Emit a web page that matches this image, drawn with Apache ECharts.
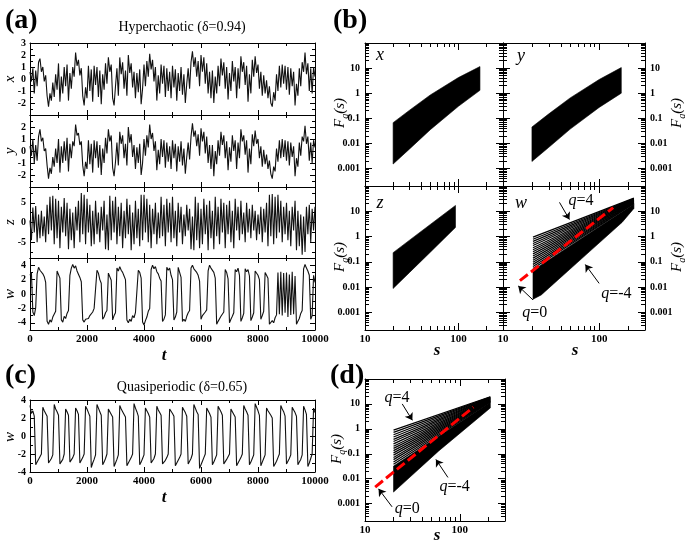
<!DOCTYPE html>
<html><head><meta charset="utf-8">
<script src="https://cdn.jsdelivr.net/npm/echarts@6.0.0/dist/echarts.min.js"></script>
<style>html,body{margin:0;padding:0;background:#fff}#c{width:685px;height:542px}</style>
</head><body><div id="c"></div>
<script>
// ---------------- DATA ----------------
const T_STEP = 50; // time step of the sampled series (t = 0..10000)
const xHyper = [
 0.6,-0.2,0.9,-1.2,0.7,-0.6,1.4,1.7,0.6,1.0,-0.2,0.3,-1.4,-2.3,-1.2,-1.8,-0.3,-1.5,0.4,-0.9,
 1.3,-1.9,0.2,-1.2,1.0,-0.6,1.2,-1.8,0.5,-0.8,1.0,0.2,2.2,1.1,1.6,0.3,0.9,-1.4,-2.2,-0.7,
 -1.6,1.1,-1.0,0.8,-1.9,1.1,-0.5,1.0,-1.5,0.7,-2.1,0.4,-0.9,1.3,-0.4,1.8,0.6,1.2,-1.6,-2.2,
 -0.6,0.9,-1.4,1.8,0.4,1.4,-0.8,0.7,-1.4,2.0,0.5,1.3,-0.7,0.6,-1.6,0.5,-1.1,0.8,-2.1,-0.8,
 1.2,-0.6,1.5,0.2,2.1,0.8,1.6,-0.2,1.0,-1.8,0.3,-1.2,1.2,-0.4,1.1,-1.5,0.9,-1.0,0.6,-1.6,
 1.1,-0.7,0.8,-1.8,0.5,-1.0,1.0,-1.3,0.4,-2.0,-0.4,0.9,-0.8,1.4,2.3,1.0,1.8,0.2,1.5,-0.6,
 2.0,0.6,1.8,-0.4,1.3,-1.2,0.6,-1.6,0.7,-2.0,0.2,-1.2,1.1,-0.6,1.7,0.3,1.4,-0.8,1.0,-1.7,
 0.5,-1.0,1.5,-0.2,1.0,-1.6,0.9,-0.8,1.9,0.6,1.4,-0.5,1.1,-1.9,0.4,-1.2,1.6,0.2,1.9,0.5,
 1.2,-0.8,0.6,-1.4,0.3,-1.2,-0.1,-1.6,-0.6,-2.0,-2.3,-1.1,-1.8,0.4,-1.0,1.1,-0.7,1.2,-0.4,1.1,
 -0.9,1.0,-1.3,0.9,-0.6,0.6,-2.2,-0.4,-1.4,0.9,-0.6,1.4,0.6,2.2,0.4,1.3,-1.0,0.9,-1.2,1.0,
 0.2];
const yHyper = [
 0.4,-0.4,1.0,-1.0,0.5,-0.8,1.2,1.8,0.8,1.1,0.0,0.2,-1.2,-2.3,-1.4,-1.9,-0.5,-1.3,0.2,-1.0,
 1.0,-1.8,0.4,-1.0,0.8,-0.8,1.1,-1.7,0.6,-0.6,0.8,0.4,2.2,1.3,1.5,0.5,0.8,-1.2,-2.1,-0.9,
 -1.5,0.9,-1.1,0.6,-1.8,0.9,-0.6,0.8,-1.4,0.5,-2.0,0.2,-1.0,1.1,-0.2,1.8,0.8,1.3,-1.4,-2.1,
 -0.9,0.7,-1.2,1.6,0.6,1.3,-0.6,0.6,-1.2,2.0,0.7,1.4,-0.5,0.5,-1.5,0.3,-1.0,0.6,-2.0,-1.0,
 1.0,-0.4,1.3,0.3,2.2,1.0,1.5,0.0,0.8,-1.6,0.1,-1.1,1.0,-0.5,0.9,-1.4,0.7,-0.9,0.4,-1.5,
 0.9,-0.6,0.6,-1.7,0.4,-0.9,0.8,-1.2,0.2,-1.9,-0.5,0.7,-0.7,1.2,2.3,1.2,1.7,0.4,1.4,-0.4,
 1.9,0.8,1.6,-0.2,1.2,-1.0,0.5,-1.5,0.5,-2.1,0.0,-1.1,0.9,-0.4,1.6,0.5,1.3,-0.6,0.8,-1.6,
 0.3,-0.9,1.3,0.0,0.9,-1.5,0.7,-0.6,1.8,0.8,1.3,-0.3,0.9,-1.8,0.2,-1.1,1.4,0.4,1.7,0.6,
 1.0,-0.6,0.4,-1.3,0.1,-1.1,-0.3,-1.5,-0.8,-1.9,-2.3,-1.3,-1.7,0.2,-0.9,0.9,-0.6,1.0,-0.5,0.9,
 -0.8,0.8,-1.2,0.7,-0.5,0.4,-2.1,-0.6,-1.3,0.7,-0.4,1.2,0.8,2.1,0.6,1.2,-0.8,0.7,-1.0,0.9,
 0.3];
const zHyper = [
 0.5,-4.5,3.8,-2.5,4.2,-5.0,2.0,-4.0,3.0,-3.5,1.5,-5.0,4.5,-3.0,6.5,-2.0,6.8,-5.5,6.0,-4.0,
 5.5,-6.5,4.0,-2.5,6.2,-3.5,5.0,-6.8,3.5,-4.5,2.5,-6.5,4.0,-2.0,5.5,-5.0,7.5,-3.0,7.0,-5.5,
 6.0,-2.5,4.5,-6.0,3.0,-5.5,5.5,-3.0,2.5,-5.0,4.0,-2.0,5.5,-6.8,2.0,-7.0,6.8,-4.5,5.5,-2.5,
 6.5,-5.5,4.0,-3.5,5.0,-6.5,3.0,-4.0,6.0,-3.0,4.5,-7.0,2.5,-5.5,5.5,-4.0,3.5,-6.0,7.0,-4.5,
 7.0,-2.5,6.0,-5.0,4.5,-6.5,3.5,-3.0,5.0,-5.5,2.5,-4.0,6.5,-3.5,4.5,-6.0,6.0,-2.5,5.0,-5.0,
 6.5,-4.0,3.0,-6.0,5.0,-2.5,4.0,-5.5,2.0,-3.5,4.5,-2.0,3.5,-6.8,1.5,-7.0,6.5,-4.5,5.0,-6.5,
 3.5,-5.5,6.0,-3.0,4.5,-7.0,5.5,-4.0,3.0,-6.8,6.5,-3.5,4.0,-5.5,6.0,-2.5,5.0,-6.5,4.5,-3.0,
 5.5,-5.0,3.0,-6.5,6.0,-2.0,4.0,-4.5,5.5,-3.0,2.5,-5.0,5.0,-2.5,3.5,-4.0,4.5,-2.0,3.0,-4.5,
 2.0,-3.0,4.0,-5.0,3.5,-2.5,5.0,-6.0,7.0,-3.5,7.2,-5.5,6.5,-4.0,7.0,-2.5,5.5,-5.0,4.0,-3.0,
 5.0,-4.5,3.0,-6.0,4.0,-2.0,5.5,-7.0,3.0,-6.0,2.0,-8.2,1.5,-7.5,4.0,-3.0,4.5,-5.0,3.5,-2.0,
 4.0];
const wHyper = [
 2.6,3.0,-2.5,-3.0,-1.9,2.8,3.7,3.3,3.5,2.8,2.4,1.6,-3.8,-4.2,-3.6,-3.9,-3.2,-3.4,-2.4,3.2,
 3.0,2.2,-3.6,-3.9,-3.1,-3.4,-2.7,-2.3,2.6,3.6,4.1,3.6,3.9,3.2,3.0,2.3,1.7,-3.6,-3.9,-3.5,
 -3.7,-3.4,-3.0,-3.2,-2.5,-2.0,-1.8,3.3,2.9,2.0,1.5,-3.5,-3.2,-2.6,-2.3,2.9,2.7,1.9,-3.6,-3.0,
 -2.6,3.6,3.2,3.8,3.3,3.0,2.5,2.0,-3.6,-4.0,-3.5,-3.8,-3.0,-3.3,-2.6,-2.5,3.3,3.0,2.2,-3.9,
 -4.3,-3.7,-3.2,-2.4,-2.0,3.4,4.0,3.5,3.8,3.1,2.8,2.2,1.8,-3.8,-3.5,-2.9,3.7,3.3,3.6,2.6,
 2.0,-3.6,-3.2,-2.5,3.7,3.0,2.3,-3.8,-3.5,-3.8,-3.1,-2.6,-2.3,3.6,4.0,3.5,3.7,3.0,2.6,1.8,
 -3.5,-3.0,-3.2,-2.5,-2.2,3.2,4.0,3.6,3.8,3.0,2.2,-4.2,-3.8,-3.9,-3.1,-3.3,-2.5,3.4,3.0,2.1,
 -4.0,-3.5,-3.1,-2.6,3.4,3.1,3.6,2.6,-3.8,-3.3,-2.7,3.5,3.1,3.4,2.5,-3.7,-3.2,-2.6,3.2,3.4,
 2.6,2.0,-3.5,-3.0,-2.4,3.0,2.6,2.2,-4.2,-4.4,-3.7,-4.0,-3.3,-2.9,3.0,-2.8,3.1,-3.0,2.9,-2.6,
 3.0,-3.2,2.7,-2.9,3.1,-2.8,2.5,-4.2,-3.8,-3.4,-2.7,-2.3,3.5,4.1,3.6,3.2,2.6,-3.5,-3.0,2.6,
 1.6];
const wQuasi = [
 3.4,2.5,2.8,2.2,-3.2,-2.9,-2.7,-2.3,-2.0,
 3.2,2.8,2.6,2.2,-3.0,-2.8,-2.5,-2.1,
 3.5,3.0,2.7,2.3,-3.1,-2.9,-2.6,-2.0,
 3.0,2.7,2.3,-2.9,-2.8,-2.4,-2.0,
 3.1,2.8,2.4,-3.0,-2.7,-2.4,-2.0,
 3.3,3.0,2.6,2.2,-3.5,-3.0,-2.6,-2.1,
 3.5,3.1,2.7,2.3,-3.2,-2.9,-2.5,-2.0,
 3.0,2.7,2.5,2.1,-3.4,-3.0,-2.6,-2.1,
 3.4,3.0,2.7,2.5,2.1,-3.3,-3.0,-2.8,-2.4,-2.0,
 3.6,3.1,2.7,2.2,-3.2,-2.9,-2.5,-2.1,
 3.1,2.8,2.5,2.1,-3.0,-2.8,-2.5,-2.0,
 3.3,2.9,2.6,2.3,-3.1,-2.9,-2.7,-2.4,-2.0,
 3.0,2.8,2.5,2.2,-3.3,-3.0,-2.7,-2.4,-2.0,
 3.2,2.9,2.6,2.2,-3.1,-2.8,-2.5,-2.0,
 3.5,3.1,2.7,2.4,-3.6,-3.2,-2.8,-2.4,-2.0,
 3.1,2.8,2.5,2.1,-3.2,-2.9,-2.5,-2.1,
 3.3,3.0,2.7,2.3,-3.1,-2.9,-2.6,-2.3,-2.0,
 3.0,2.7,2.5,2.1,-3.3,-3.0,-2.7,-2.4,-2.0,
 3.4,3.0,2.7,2.3,-3.2,-2.9,-2.5,-2.1,
 3.6,3.2,2.8,2.3,-3.3,-2.9,-2.5,-2.1,
 3.1,2.8,2.6,2.3,2.0,-3.4,-3.1,-2.8,-2.4,-2.0,
 3.4,3.0,2.7,2.2,-3.1,-2.8,-2.5,-2.1,
 3.2,2.9,2.6,2.2,-3.2,-2.9,-2.6,-2.1,
 3.3,2.9,2.4,-3.4,-3.0,-2.5,-2.0,
 3.1,2.6];

// F_q(s) envelopes (band edges) (b) and (d)
const sXY = [20, 30, 50, 100, 170];
const fxTop = [0.067, 0.21, 0.85, 4.2, 11.5];
const fxBot = [0.0015, 0.006, 0.035, 0.3, 1.3];
const fyTop = [0.045, 0.15, 0.65, 3.5, 10.5];
const fyBot = [0.0019, 0.007, 0.037, 0.27, 1.0];
const sZ = [20, 30, 50, 93];
const fzTop = [0.23, 0.72, 3.0, 17];
const fzBot = [0.0088, 0.038, 0.24, 2.3];
// w panel: separated fan lines (upper part) + dense lower part
const wFanS = [20.5, 230];
const wFanLeft  = [0.95, 0.78, 0.64, 0.53, 0.44, 0.36, 0.3, 0.25, 0.205, 0.17, 0.14, 0.116, 0.096, 0.079, 0.065, 0.054];
const wFanRight = [33, 32, 31, 30, 29.1, 28.2, 27.3, 26.4, 25.5, 24.7, 23.9, 23.1, 22.3, 21.6, 20.9, 20.2];
const wDenseTopS = [20.5, 230];
const wDenseTop  = [0.046, 19.6];
const wDenseBotS = [20.5, 25, 80, 174, 230];
const wDenseBot  = [0.0033, 0.0049, 0.26, 3.7, 13];
const wQ0 = [[15, 0.018], [140, 14]];
// quasiperiodic (d)
const dFanS = [20, 210];
const dFanLeft  = [0.89, 0.72, 0.58, 0.47, 0.38, 0.31, 0.25, 0.2, 0.165, 0.133, 0.108, 0.088, 0.071, 0.058, 0.047, 0.038];
const dFanRight = [19.4, 18.8, 18.2, 17.6, 17, 16.5, 16, 15.5, 15, 14.5, 14, 13.6, 13.2, 12.8, 12.4, 12.0];
const dDenseTopS = [20, 210];
const dDenseTop  = [0.032, 11.7];
const dDenseBotS = [20, 60, 210];
const dDenseBot  = [0.0029, 0.13, 6.9];
const dQ0 = [[12.8, 0.0046], [139, 7.4]];
// annotations: label text, label position, arrow tail, arrow head (data coords)
const qNames = ['q=4', 'q=-4', 'q=0'];
const wQText = [[64.7, 26.2], [151, 0.0052], [21.4, 0.001]];
const wArrows = [[[38.7, 22.5], [49.1, 4.7]], [[100, 0.014], [71.8, 0.078]], [[20.5, 0.0031], [14.4, 0.0111]]];
const dQText = [[21.8, 18.3], [88.3, 0.0046], [27.9, 0.00063]];
const dArrows = [[[24.7, 10], [31.6, 2.2]], [[75, 0.0112], [56, 0.059]], [[19.3, 0.00074], [13.9, 0.0039]]];

// tick labels
const tLabels = [0, 2000, 4000, 6000, 8000, 10000];
const xLabels = [-2, -1, 0, 1, 2, 3];
const yLabels = [-2, -1, 0, 1, 2];
const zLabels = [-5, 0, 5];
const wLabels = [-4, -2, 0, 2, 4];
const wqLabels = [-4, -2, 0, 2, 4];
const sLabels = [10, 100];
const fLabels = [0.001, 0.01, 0.1, 1, 10];
const fMinor = [0.0003,0.0004,0.0005,0.0006,0.0007,0.0008,0.0009,
  0.002,0.003,0.004,0.005,0.006,0.007,0.008,0.009,
  0.02,0.03,0.04,0.05,0.06,0.07,0.08,0.09,
  0.2,0.3,0.4,0.5,0.6,0.7,0.8,0.9,
  2,3,4,5,6,7,8,9, 20,30,40,50,60,70,80,90];
const sMinor = [20,30,40,50,60,70,80,90,200];

// ---------------- CHART ----------------
const SERIF = "'Liberation Serif','DejaVu Serif',serif";
const LINE = {color: '#000', width: 1};
const grids = [], xAxes = [], yAxes = [], series = [];

function fmtNum(v) { return String(parseFloat(Number(v).toPrecision(6))); }
function labFmt(list) {
  return function (v) { return list.some(l => Math.abs(l - v) <= Math.abs(l) * 1e-6 + 1e-9) ? fmtNum(v) : ''; };
}
function axisDef(gi, A, pos, major, labels) {
  const a = {
    gridIndex: gi, type: A.type, min: A.min, max: A.max, position: pos, offset: 0,
    axisLine: {show: major, onZero: false, lineStyle: LINE},
    axisTick: {show: true, inside: true, length: major ? A.majLen : A.minLen,
      customValues: major ? A.major : A.minor, lineStyle: {color: '#000', width: 1}},
    axisLabel: {show: false},
    splitLine: {show: false}, splitArea: {show: false}, silent: true
  };
  if (A.type === 'log') a.logBase = 10;
  if (labels) a.axisLabel = {show: true, customValues: labels, formatter: labFmt(labels), margin: A.margin,
    fontFamily: SERIF, fontWeight: 'bold', fontSize: A.fontSize, color: '#000'};
  return a;
}
function addGrid(rect, X, Y) {
  const gi = grids.length;
  grids.push(Object.assign({containLabel: false, outerBoundsMode: 'none', show: false}, rect));
  const xi = xAxes.length;
  ['bottom', 'top'].forEach(pos => {
    xAxes.push(axisDef(gi, X, pos, true, pos === 'bottom' ? X.labels : null));
    xAxes.push(axisDef(gi, X, pos, false, null));
  });
  const yi = yAxes.length;
  ['left', 'right'].forEach(pos => {
    yAxes.push(axisDef(gi, Y, pos, true, pos === Y.side ? Y.labels : null));
    yAxes.push(axisDef(gi, Y, pos, false, null));
  });
  return {xi, yi};
}

const tAx = {type: 'value', min: 0, max: 10000, major: [2000, 4000, 6000, 8000], minor: [1000, 3000, 5000, 7000, 9000],
  majLen: 5, minLen: 3, margin: 4, fontSize: 11};
const lin = (min, max, major, minor, labels) => ({type: 'value', min, max, major, minor, labels, side: 'left',
  majLen: 5, minLen: 3, margin: 4, fontSize: 10});
const sAx = (labels) => ({type: 'log', min: 10, max: 300, major: [100], minor: sMinor, labels,
  majLen: 7, minLen: 4, margin: 4, fontSize: 11});
const fAx = (side, labels) => ({type: 'log', min: 0.0002, max: 100, major: fLabels, minor: fMinor, labels, side,
  majLen: 7, minLen: 4, margin: 5, fontSize: 10});

// (a) time series
const gAx = addGrid({left: 30, top: 43, width: 285, height: 72}, Object.assign({}, tAx, {labels: null}),
  lin(-3, 3, [-2, -1, 0, 1, 2], [-2.5, -1.5, -0.5, 0.5, 1.5, 2.5], xLabels));
const gAy = addGrid({left: 30, top: 115, width: 285, height: 72}, Object.assign({}, tAx, {labels: null}),
  lin(-3, 3, [-2, -1, 0, 1, 2], [-2.5, -1.5, -0.5, 0.5, 1.5, 2.5], yLabels));
const gAz = addGrid({left: 30, top: 187, width: 285, height: 71}, Object.assign({}, tAx, {labels: null}),
  lin(-9, 9, [-5, 0, 5], [-7.5, -2.5, 2.5, 7.5], zLabels));
const gAw = addGrid({left: 30, top: 258, width: 285, height: 72}, Object.assign({}, tAx, {labels: tLabels}),
  lin(-5, 5, [-4, -2, 0, 2, 4], [-3, -1, 1, 3], wLabels));
// (c)
const gC = addGrid({left: 30, top: 400, width: 285, height: 72}, Object.assign({}, tAx, {labels: tLabels}),
  lin(-4, 4, [-2, 0, 2], [-3, -1, 1, 3], wqLabels));
// (b)
const gBx = addGrid({left: 365, top: 43, width: 138, height: 143}, sAx(null), fAx('left', fLabels));
const gBy = addGrid({left: 503, top: 43, width: 142, height: 143}, sAx(null), fAx('right', fLabels));
const gBz = addGrid({left: 365, top: 186, width: 138, height: 144}, sAx(sLabels), fAx('left', fLabels));
const gBw = addGrid({left: 503, top: 186, width: 142, height: 144}, sAx(sLabels), fAx('right', fLabels));
// (d)
const gD = addGrid({left: 365, top: 379, width: 140, height: 142}, sAx(sLabels), fAx('left', fLabels));

function ts(g, vals) {
  series.push({type: 'line', xAxisIndex: g.xi, yAxisIndex: g.yi, data: vals.map((v, i) => [i * T_STEP, v]),
    symbol: 'none', silent: true, clip: true, lineStyle: {color: '#111', width: 1.1}});
}
ts(gAx, xHyper); ts(gAy, yHyper); ts(gAz, zHyper); ts(gAw, wHyper); ts(gC, wQuasi);

function band(g, sTop, top, sBot, bot) {
  const pts = sTop.map((s, i) => [s, top[i]]).concat(sBot.map((s, i) => [s, bot[i]]).reverse());
  series.push({type: 'custom', xAxisIndex: g.xi, yAxisIndex: g.yi, data: [pts[0]], silent: true, clip: true,
    renderItem: (params, api) => ({type: 'polygon', shape: {points: pts.map(p => api.coord(p))},
      style: {fill: '#000', stroke: '#000', lineWidth: 0.6}})});
}
band(gBx, sXY, fxTop, sXY, fxBot);
band(gBy, sXY, fyTop, sXY, fyBot);
band(gBz, sZ, fzTop, sZ, fzBot);
band(gBw, wDenseTopS, wDenseTop, wDenseBotS, wDenseBot);
band(gD, dDenseTopS, dDenseTop, dDenseBotS, dDenseBot);

function fan(g, sArr, left, right) {
  left.forEach((f, i) => series.push({type: 'line', xAxisIndex: g.xi, yAxisIndex: g.yi, silent: true,
    data: [[sArr[0], f], [sArr[1], right[i]]], symbol: 'none', lineStyle: {color: '#000', width: 1.25}}));
}
fan(gBw, wFanS, wFanLeft, wFanRight);
fan(gD, dFanS, dFanLeft, dFanRight);

const qRich = {
  i: {fontFamily: SERIF, fontStyle: 'italic', fontSize: 16, color: '#000'},
  n: {fontFamily: SERIF, fontSize: 16, color: '#000'}
};
function q0(g, line, texts, arrows) {
  series.push({type: 'line', xAxisIndex: g.xi, yAxisIndex: g.yi, data: line, symbol: 'none', silent: true, z: 5,
    lineStyle: {color: '#ff0000', width: 3, type: [10, 4]},
    markLine: {silent: true, symbol: ['none', 'arrow'], symbolSize: 7, animation: false,
      lineStyle: {color: '#000', width: 1, type: 'solid'}, label: {show: false},
      data: arrows.map(a => [{coord: a[0]}, {coord: a[1]}])},
    markPoint: {silent: true, symbol: 'circle', symbolSize: 1, itemStyle: {color: 'rgba(0,0,0,0)'}, animation: false,
      label: {show: true, position: 'inside', formatter: p => '{i|q}{n|' + p.name.slice(1) + '}', rich: qRich},
      data: texts.map((c, i) => ({name: qNames[i], coord: c}))}
  });
}
q0(gBw, wQ0, wQText, wArrows);
q0(gD, dQ0, dQText, dArrows);

// ---------------- TEXTS ----------------
function txt(text, x, y, font, align, vAlign, rot) {
  return {type: 'text', x, y, rotation: rot || 0, silent: true, z: 20,
    style: {text, font, fill: '#000', align: align || 'left', verticalAlign: vAlign || 'top'}};
}
const FQ_RICH = {
  F: {fontFamily: SERIF, fontStyle: 'italic', fontSize: 15, lineHeight: 20, verticalAlign: 'middle', fill: '#000'},
  q: {fontFamily: SERIF, fontStyle: 'italic', fontSize: 10, lineHeight: 10, verticalAlign: 'bottom', fill: '#000'},
  s: {fontFamily: SERIF, fontStyle: 'italic', fontSize: 15, lineHeight: 20, verticalAlign: 'middle', fill: '#000'}
};
function fq(x, y) {
  return {type: 'text', x, y, rotation: Math.PI / 2, silent: true, z: 20,
    style: {text: '{F|F}{q|q}{s|(s)}', rich: FQ_RICH, align: 'center', verticalAlign: 'middle', fill: '#000'}};
}
const BIG = 'bold 28px ' + SERIF, TITLE = '14px ' + SERIF, AX = 'bold italic 17px ' + SERIF,
  YN = 'italic 15px ' + SERIF, PN = 'italic 18px ' + SERIF;
const graphic = [
  txt('(a)', 5, 7, BIG), txt('(b)', 333, 7, BIG), txt('(c)', 5, 362, BIG), txt('(d)', 330, 362, BIG),
  txt('Hyperchaotic (\u03b4=0.94)', 182, 27, TITLE, 'center', 'middle'),
  txt('Quasiperiodic (\u03b4=0.65)', 182, 387, TITLE, 'center', 'middle'),
  txt('t', 164, 356, AX, 'center', 'middle'), txt('t', 164, 498, AX, 'center', 'middle'),
  txt('s', 437, 351, AX, 'center', 'middle'), txt('s', 575, 351, AX, 'center', 'middle'),
  txt('s', 437, 536, AX, 'center', 'middle'),
  txt('x', 10, 79, YN, 'center', 'middle', Math.PI / 2), txt('y', 10, 151, YN, 'center', 'middle', Math.PI / 2),
  txt('z', 10, 222, YN, 'center', 'middle', Math.PI / 2), txt('w', 10, 294, YN, 'center', 'middle', Math.PI / 2),
  txt('w', 10, 437, YN, 'center', 'middle', Math.PI / 2),
  txt('x', 380, 55, PN, 'center', 'middle'), txt('y', 521, 56, PN, 'center', 'middle'),
  txt('z', 380, 203, PN, 'center', 'middle'), txt('w', 521, 203, PN, 'center', 'middle'),
  fq(340, 113), fq(677, 113), fq(340, 257), fq(677, 257), fq(337, 449)
];

const chart = echarts.init(document.getElementById('c'), null, {renderer: 'canvas'});
chart.setOption({animation: false, backgroundColor: '#fff', grid: grids, xAxis: xAxes, yAxis: yAxes,
  series: series, graphic: graphic});
</script></body></html>
